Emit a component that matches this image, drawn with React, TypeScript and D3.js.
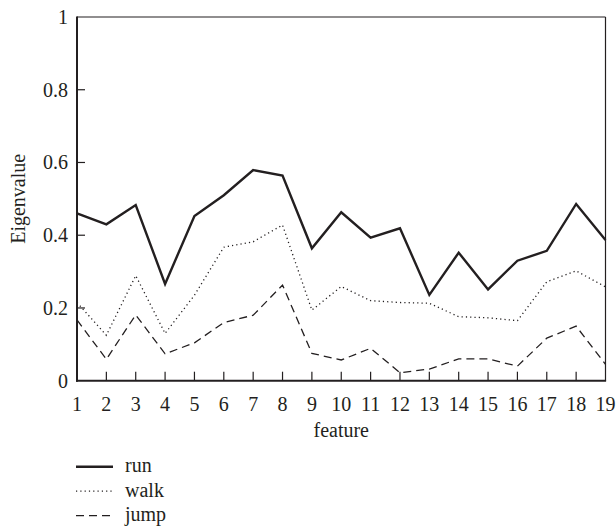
import React from "react";
import * as d3 from "d3";

const features = [1, 2, 3, 4, 5, 6, 7, 8, 9, 10, 11, 12, 13, 14, 15, 16, 17, 18, 19];
const runValues = [0.46, 0.43, 0.483, 0.266, 0.453, 0.51, 0.579, 0.564, 0.364, 0.463, 0.393, 0.419, 0.236, 0.352, 0.251, 0.33, 0.357, 0.486, 0.387];
const walkValues = [0.215, 0.125, 0.289, 0.13, 0.235, 0.367, 0.382, 0.428, 0.194, 0.259, 0.22, 0.215, 0.213, 0.176, 0.173, 0.165, 0.272, 0.302, 0.258];
const jumpValues = [0.167, 0.059, 0.181, 0.074, 0.104, 0.16, 0.18, 0.263, 0.075, 0.057, 0.089, 0.022, 0.032, 0.06, 0.06, 0.04, 0.117, 0.15, 0.045];
const yTicks = [0, 0.2, 0.4, 0.6, 0.8, 1];
const yTickLabels = ["0", "0.2", "0.4", "0.6", "0.8", "1"];
const seriesNames = ["run", "walk", "jump"];

const W = 616;
const H = 528;
const M = { left: 77, right: 605.5, top: 17, bottom: 380.7 };
const INK = "#231f20";
const FONT = "Liberation Serif, Times New Roman, serif";

const styles: Record<string, { w: number; dash?: string }> = {
  run: { w: 2.4 },
  walk: { w: 1.3, dash: "1.2 3.1" },
  jump: { w: 1.3, dash: "8 5" },
};

export default function App() {
  const x = d3.scaleLinear().domain([1, 19]).range([M.left, M.right]);
  const y = d3.scaleLinear().domain([0, 1]).range([M.bottom, M.top]);
  const line = d3
    .line<number>()
    .x((_, i) => x(features[i]))
    .y((d) => y(d));
  const series = [runValues, walkValues, jumpValues];
  const txt = { fontFamily: FONT, fontSize: "20px" };

  return (
    <svg
      width={W}
      height={H}
      style={{ position: "absolute", left: 0, top: 0, background: "#fff" }}
    >
      <rect x={0} y={0} width={W} height={H} fill="#fff" />
      {series.map((vals, k) => {
        const st = styles[seriesNames[k]];
        return (
          <path
            key={seriesNames[k]}
            d={line(vals) || ""}
            fill="none"
            stroke={INK}
            strokeWidth={st.w}
            strokeDasharray={st.dash}
            strokeLinejoin="miter"
          />
        );
      })}
      <line x1={M.left} x2={M.right} y1={M.top} y2={M.top} stroke={INK} strokeWidth={1.2} />
      <line x1={M.right} x2={M.right} y1={M.top} y2={M.bottom} stroke={INK} strokeWidth={1.2} />
      <line x1={M.left} x2={M.left} y1={M.top - 0.6} y2={M.bottom + 1} stroke={INK} strokeWidth={2} />
      <line x1={M.left - 1} x2={M.right + 0.6} y1={M.bottom} y2={M.bottom} stroke={INK} strokeWidth={2} />
      {features.map((f) => (
        <g key={"xt" + f}>
          {f > 1 && f < 19 && (
            <line x1={x(f)} x2={x(f)} y1={M.bottom} y2={M.bottom - 9} stroke={INK} strokeWidth={1.2} />
          )}
          <text x={x(f)} y={410.5} textAnchor="middle" style={txt} fill={INK}>
            {f}
          </text>
        </g>
      ))}
      {yTicks.map((t, i) => (
        <g key={"yt" + t}>
          {t > 0 && t < 1 && (
            <line x1={M.left} x2={M.left + 8} y1={y(t)} y2={y(t)} stroke={INK} strokeWidth={1.2} />
          )}
          <text x={68} y={y(t) + 6.8} textAnchor="end" style={txt} fill={INK}>
            {yTickLabels[i]}
          </text>
        </g>
      ))}
      <text x={(M.left + M.right) / 2} y={437} textAnchor="middle" style={txt} fill={INK}>
        feature
      </text>
      <text
        transform={`translate(24.5, ${(M.top + M.bottom) / 2}) rotate(-90)`}
        textAnchor="middle"
        style={txt}
        fill={INK}
      >
        Eigenvalue
      </text>
      {seriesNames.map((name, k) => {
        const ly = 466.7 + k * 24.5;
        const st = styles[name];
        return (
          <g key={"lg" + name}>
            <line x1={76} x2={113} y1={ly} y2={ly} stroke={INK} strokeWidth={st.w} strokeDasharray={st.dash} />
            <text x={125} y={ly + 5.5} style={txt} fill={INK}>
              {name}
            </text>
          </g>
        );
      })}
    </svg>
  );
}
